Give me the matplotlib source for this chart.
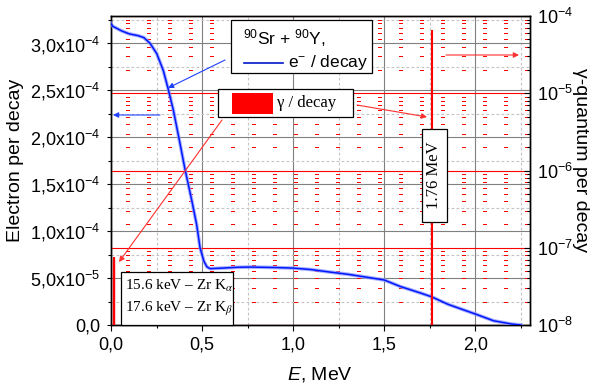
import numpy as np
import matplotlib
matplotlib.use("Agg")
import matplotlib.pyplot as plt
from matplotlib.patches import Rectangle
from matplotlib.lines import Line2D
from matplotlib.transforms import Affine2D
from matplotlib.ticker import MultipleLocator, FixedLocator, FixedFormatter, LogLocator, NullFormatter

plt.rcParams["font.family"] = ["Liberation Sans", "DejaVu Sans"]
plt.rcParams["mathtext.fontset"] = "custom"
plt.rcParams["mathtext.rm"] = "Liberation Sans"
plt.rcParams["mathtext.it"] = "Liberation Sans:italic"

# 90Sr + 90Y electron spectrum, electrons per decay (x1e-4)
energy_mev = [0.000, 0.010, 0.030, 0.060, 0.100, 0.150, 0.180, 0.214, 0.251, 0.287,
              0.313, 0.342, 0.379, 0.407, 0.443, 0.470, 0.489, 0.510, 0.526, 0.544,
              0.600, 0.700, 0.764, 0.900, 1.000, 1.100, 1.200, 1.300, 1.400, 1.500,
              1.588, 1.700, 1.760, 1.850, 2.000, 2.100, 2.200, 2.250]
electrons_e4 = [3.21, 3.18, 3.16, 3.13, 3.10, 3.08, 3.06, 3.00, 2.89, 2.71,
                2.52, 2.29, 1.93, 1.65, 1.33, 1.07, 0.82, 0.68, 0.62, 0.60,
                0.605, 0.615, 0.617, 0.612, 0.606, 0.59, 0.564, 0.54, 0.51, 0.479,
                0.41, 0.34, 0.30, 0.22, 0.117, 0.045, 0.010, 0.0]

# gamma lines: Zr K-alpha, Zr K-beta, 1.76 MeV
gamma_energy_mev = [0.0156, 0.0176, 1.76]
gamma_per_decay = [7.6e-8, 7.0e-8, 6.6e-5]

left_ticks = [0, 0.5e-4, 1.0e-4, 1.5e-4, 2.0e-4, 2.5e-4, 3.0e-4]
left_labels = ["0,0", "5,0x10$^{-5}$", "1,0x10$^{-4}$", "1,5x10$^{-4}$",
               "2,0x10$^{-4}$", "2,5x10$^{-4}$", "3,0x10$^{-4}$"]
x_ticks = [0.0, 0.5, 1.0, 1.5, 2.0]
x_labels = ["0,0", "0,5", "1,0", "1,5", "2,0"]
right_ticks = [1e-8, 1e-7, 1e-6, 1e-5, 1e-4]
right_labels = ["10$^{-8}$", "10$^{-7}$", "10$^{-6}$", "10$^{-5}$", "10$^{-4}$"]

W, H = 600, 390
fig = plt.figure(figsize=(6, 3.9), dpi=100)
ax = fig.add_axes([111 / W, 65 / H, 419 / W, 309 / H])
ax2 = ax.twinx()
# image-pixel coordinates (y down) for boxes and arrows
pix = Affine2D().scale(1 / W, -1 / H).translate(0, 1) + fig.transFigure

# left / bottom axes: gray grid
ax.set_xlim(0, 2.3)
ax.set_ylim(0, 3.29e-4)
ax.xaxis.set_major_locator(FixedLocator(x_ticks))
ax.xaxis.set_major_formatter(FixedFormatter(x_labels))
ax.xaxis.set_minor_locator(MultipleLocator(0.25))
ax.yaxis.set_major_locator(FixedLocator(left_ticks))
ax.yaxis.set_major_formatter(FixedFormatter(left_labels))
ax.yaxis.set_minor_locator(MultipleLocator(0.25e-4))
ax.grid(which="major", color="#808080", lw=0.8, ls="-")
ax.grid(which="minor", color="#c4c4c4", lw=0.8, ls=(0, (2.5, 2)))
ax.tick_params(which="both", direction="out", top=False, right=False,
               labelsize=13, width=0.8)
ax.tick_params(axis="x", which="major", length=4, pad=4)
ax.tick_params(axis="x", which="minor", length=2.5)
ax.tick_params(axis="y", which="major", length=3, pad=5)
ax.tick_params(axis="y", which="minor", length=2.5)

# right log axis: red grid
ax2.set_yscale("log")
ax2.set_ylim(1e-8, 1e-4)
ax2.yaxis.set_major_locator(FixedLocator(right_ticks))
ax2.yaxis.set_major_formatter(FixedFormatter(right_labels))
ax2.yaxis.set_minor_locator(LogLocator(base=10, subs=np.arange(2, 10)))
ax2.yaxis.set_minor_formatter(NullFormatter())
ax2.grid(which="major", axis="y", color="red", lw=0.8, ls="-")
ax2.grid(which="minor", axis="y", color="red", lw=0.72, antialiased=False,
         ls=(6, (1, 1, 1, 1, 1, 1, 1, 18)))
ax2.tick_params(axis="y", which="both", direction="in", labelsize=13, pad=5, width=0.8)
ax2.tick_params(axis="y", which="major", length=4)
ax2.tick_params(axis="y", which="minor", length=2.5)

for a in (ax, ax2):
    for sp in a.spines.values():
        sp.set_linewidth(1.0)
        sp.set_color("black")

# electron spectrum (drawn on ax2 so it sits above the red grid)
e_vals = np.array(electrons_e4) * 1e-4
ax2.plot(energy_mev, e_vals, color="#8a94ff", lw=2.6, alpha=0.75,
         transform=ax.transData, zorder=3)
ax2.plot(energy_mev, e_vals, color="#0018ff", lw=1.1,
         transform=ax.transData, zorder=4)

# gamma lines
ax2.vlines(gamma_energy_mev[:2], 1e-8, gamma_per_decay[:2], color="red", lw=1.6, zorder=5)
ax2.vlines(gamma_energy_mev[2:], 1e-8, gamma_per_decay[2:], color="red", lw=1.5, zorder=5)

# arrows
arrows = [
    ((225, 60), (168, 88), "#2040ff"),
    ((160, 115), (113, 115), "#2040ff"),
    ((222, 120), (119, 262), "#ff3030"),
    ((357, 105), (427, 117), "#ff3030"),
    ((446, 55), (519, 55), "#ff3030"),
]
for start, end, col in arrows:
    ax2.annotate("", xy=end, xytext=start, xycoords=pix, textcoords=pix,
                 arrowprops=dict(arrowstyle="-|>", color=col, lw=0.8,
                                 mutation_scale=8, shrinkA=0, shrinkB=0),
                 zorder=8, annotation_clip=False)


def box(x0, y0, x1, y1):
    fig.add_artist(Rectangle((x0, y0), x1 - x0, y1 - y0, transform=pix,
                             facecolor="white", edgecolor="black", lw=0.9, zorder=9))


# legend: electrons
box(231, 20, 372, 73)
fig.text(243, 38, "$^{90}$Sr + $^{90}$Y,", transform=pix, fontsize=12.5,
         ha="left", va="center", zorder=10)
fig.add_artist(Line2D([244, 283], [63, 63], transform=pix, color="#0018cc", lw=1.2, zorder=10))
fig.text(288, 63, "e$^{-}$ / decay", transform=pix, fontsize=12.5,
         ha="left", va="center", zorder=10)

# legend: gamma
box(218, 89, 353, 117)
fig.add_artist(Rectangle((232, 93), 41, 21, transform=pix, facecolor="red",
                         edgecolor="none", zorder=10))
fig.text(277, 103, "γ / decay", transform=pix, fontsize=12,
         family="Liberation Serif", ha="left", va="center", zorder=10)

# 1.76 MeV label
box(422, 129, 447, 222)
fig.text(434.5, 175.5, "1.76 MeV", transform=pix, fontsize=12, rotation=90,
         family="Liberation Serif", ha="center", va="center", zorder=10)

# Zr K lines label
box(121, 272, 233, 325)
fig.text(125, 286, "15.6 keV – Zr K$_{\\alpha}$", transform=pix, fontsize=11,
         family="Liberation Serif", math_fontfamily="stix",
         ha="left", va="center", zorder=10)
fig.text(125, 309, "17.6 keV – Zr K$_{\\beta}$", transform=pix, fontsize=11,
         family="Liberation Serif", math_fontfamily="stix",
         ha="left", va="center", zorder=10)

# axis titles
fig.text(16, 160, "Electron per decay", transform=pix, fontsize=14,
         rotation=90, ha="center", va="center")
fig.text(580, 160, "γ-quantum per decay", transform=pix, fontsize=14,
         rotation=270, ha="center", va="center")
fig.text(320, 375, "$E$, MeV", transform=pix, fontsize=14, ha="center", va="center")

fig.savefig("out.png", dpi=100)
